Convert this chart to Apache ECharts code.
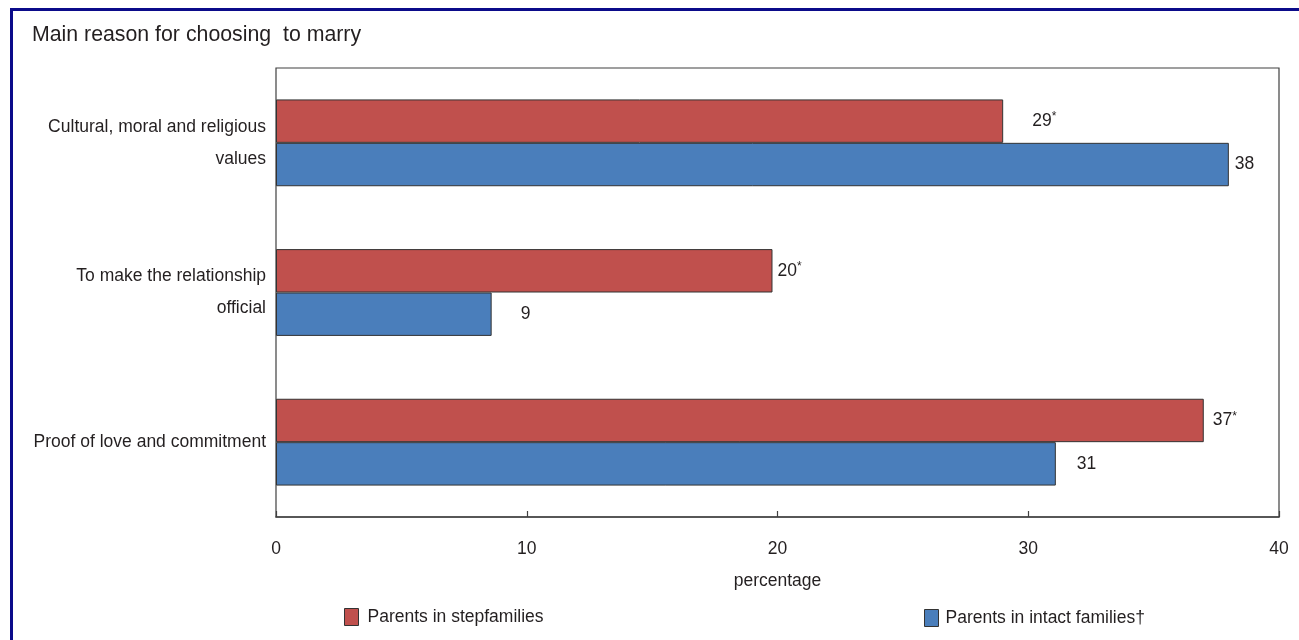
<!DOCTYPE html>
<html>
<head>
<meta charset="utf-8">
<script src="https://cdn.jsdelivr.net/npm/echarts@6/dist/echarts.min.js"></script>
<style>
html,body{margin:0;padding:0;background:#fff;}
#chart{width:1299px;height:640px;}
</style>
</head>
<body>
<div id="chart"></div>
<script>
var categories = ['Cultural, moral and religious\nvalues', 'To make the relationship\nofficial', 'Proof of love and commitment'];
var stepValues = [29.0, 19.8, 37.0];
var stepLabels = ['29*', '20*', '37*'];
var intactValues = [38.0, 8.6, 31.1];
var intactLabels = ['38', '9', '31'];
var seriesNames = ['Parents in stepfamilies', 'Parents in intact families\u2020'];
var xTicks = [0, 10, 20, 30, 40];

// label spacing (style only)
var stepGaps = [29, 5, 9];
var intactGaps = [6, 29, 21];

var FONT = '"Liberation Sans", Arial, sans-serif';

function fmtLabel(txt) {
  if (txt.slice(-1) === '*') return txt.slice(0, -1) + '{s|*}';
  return txt;
}

function buildData(values, labels, gaps) {
  return values.map(function (v, i) {
    return { value: v, label: { distance: gaps[i], formatter: fmtLabel(labels[i]) } };
  });
}

var labelStyle = {
  show: true, position: 'right', color: '#231f20', fontFamily: FONT, fontSize: 17.5,
  rich: { s: { fontSize: 12, fontFamily: FONT, color: '#231f20', verticalAlign: 'top', padding: [0, 0, 8, 0] } }
};

var chart = echarts.init(document.getElementById('chart'), null, { renderer: 'canvas' });
chart.setOption({
  animation: false,
  backgroundColor: '#ffffff',
  title: {
    text: 'Main reason for choosing  to marry',
    left: 32, top: 25, padding: 0,
    textStyle: { fontFamily: FONT, fontSize: 21.3, fontWeight: 'normal', color: '#231f20' }
  },
  graphic: [{
    type: 'rect', silent: true, z: 100,
    shape: { x: 11.5, y: 9.5, width: 1400, height: 800 },
    style: { fill: 'none', stroke: '#0b0b8a', lineWidth: 3 }
  }],
  legend: [{
    data: [seriesNames[0]], left: 344, top: 608, padding: 0,
    icon: 'rect', itemWidth: 14, itemHeight: 17,
    itemStyle: { borderColor: '#333333', borderWidth: 1 },
    textStyle: { fontFamily: FONT, fontSize: 17.5, color: '#231f20', padding: [0, 0, 0, 4] }
  }, {
    data: [seriesNames[1]], left: 924, top: 609, padding: 0,
    icon: 'rect', itemWidth: 14, itemHeight: 17,
    itemStyle: { borderColor: '#333333', borderWidth: 1 },
    textStyle: { fontFamily: FONT, fontSize: 17.5, color: '#231f20', padding: [0, 0, 0, 2] }
  }],
  grid: {
    left: 276, right: 20, top: 68, bottom: 123, containLabel: false,
    show: true, borderColor: '#404040', borderWidth: 1.2, backgroundColor: 'transparent'
  },
  xAxis: {
    type: 'value', min: xTicks[0], max: xTicks[xTicks.length - 1], interval: 10,
    name: 'percentage', nameLocation: 'middle', nameGap: 55,
    nameTextStyle: { fontFamily: FONT, fontSize: 17.5, color: '#231f20' },
    axisLine: { show: true, lineStyle: { color: '#404040', width: 1.5 } },
    axisTick: { show: true, inside: true, length: 6, lineStyle: { color: '#404040', width: 1.2 } },
    axisLabel: { margin: 23, fontFamily: FONT, fontSize: 17.5, color: '#231f20' },
    splitLine: { show: false }
  },
  yAxis: {
    type: 'category', data: categories, inverse: true,
    axisLine: { show: false }, axisTick: { show: false },
    axisLabel: {
      margin: 10, fontFamily: FONT, fontSize: 17.5, color: '#231f20',
      lineHeight: 32, align: 'right'
    },
    splitLine: { show: false }
  },
  series: [{
    name: seriesNames[0], type: 'bar', data: buildData(stepValues, stepLabels, stepGaps),
    barGap: '0%', barCategoryGap: '42%',
    itemStyle: { color: '#c0504d', borderColor: '#333333', borderWidth: 1 },
    label: labelStyle
  }, {
    name: seriesNames[1], type: 'bar', data: buildData(intactValues, intactLabels, intactGaps),
    barGap: '0%', barCategoryGap: '42%',
    itemStyle: { color: '#4a7ebb', borderColor: '#333333', borderWidth: 1 },
    label: labelStyle
  }]
});
</script>
</body>
</html>
